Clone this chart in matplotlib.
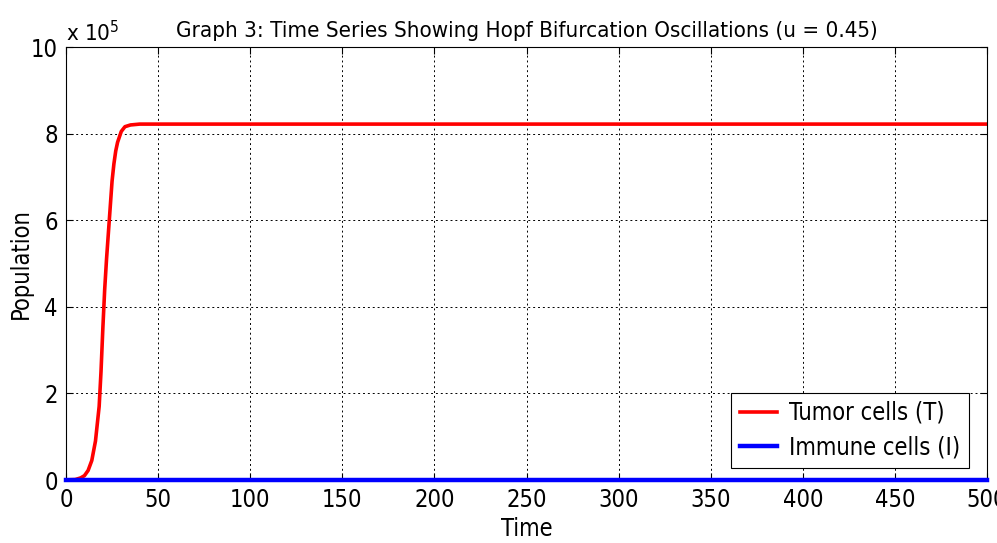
import matplotlib
matplotlib.use("Agg")
import matplotlib.pyplot as plt
from matplotlib import font_manager

# Данные
t_tumor = [0, 5, 8, 10, 12, 14, 16, 18, 19, 20, 21, 22, 23, 24, 25, 26, 27, 28, 30, 32, 35, 40, 100, 200, 300, 400, 500]
tumor = [0.003, 0.01, 0.05, 0.1, 0.22, 0.45, 0.9, 1.7, 2.5, 3.5, 4.4, 5.1, 5.7, 6.3, 6.9, 7.3, 7.6, 7.8, 8.05, 8.16, 8.2, 8.22, 8.22, 8.22, 8.22, 8.22, 8.22]
t_immune = [0, 100, 200, 300, 400, 500]
immune = [0.0, 0.0, 0.0, 0.0, 0.0, 0.0]

names = {f.name for f in font_manager.fontManager.ttflist}
fam = 'Liberation Sans Narrow' if 'Liberation Sans Narrow' in names else 'DejaVu Sans'
plt.rcParams['font.family'] = [fam, 'DejaVu Sans']
if fam == 'DejaVu Sans':
    plt.rcParams['font.stretch'] = 'condensed'

fig = plt.figure(figsize=(9.97, 5.43), dpi=100)
ax = fig.add_axes([0.0662, 0.116, 0.9238, 0.7974])

ax.plot(t_tumor, [v * 1e5 for v in tumor], color='#ff0000', lw=2.6, label='Tumor cells (T)')
ax.plot(t_immune, [v * 1e5 for v in immune], color='#0000ff', lw=3.2, label='Immune cells (I)',
        clip_on=False, zorder=5)

ax.set_xlim(0, 500)
ax.set_ylim(0, 10e5)
ax.set_xticks(range(0, 501, 50))
ax.set_yticks([0, 2e5, 4e5, 6e5, 8e5, 10e5])
ax.set_yticklabels(['0', '2', '4', '6', '8', '10'])
ax.text(0.0, 1.005, r'x 10$^5$', transform=ax.transAxes, fontsize=16, ha='left', va='bottom')

ax.grid(True, color='black', linestyle=(0, (2, 3)), linewidth=0.7)
ax.tick_params(direction='in', labelsize=17, length=5, top=True, right=True, pad=6)
for s in ax.spines.values():
    s.set_linewidth(0.8)

ax.set_title('Graph 3: Time Series Showing Hopf Bifurcation Oscillations (u = 0.45)', fontsize=16, pad=7)
ax.set_xlabel('Time', fontsize=17, labelpad=3)
fig.text(0.021, 0.515, 'Population', rotation=90, fontsize=17, ha='center', va='center')

leg = ax.legend(loc='lower right', bbox_to_anchor=(0.98, 0.028), fontsize=17, fancybox=False,
                framealpha=1, edgecolor='black', handlelength=1.6, handletextpad=0.5,
                borderpad=0.35, labelspacing=0.45, borderaxespad=0)
leg.get_frame().set_linewidth(0.8)

fig.savefig('out.png', dpi=100)
